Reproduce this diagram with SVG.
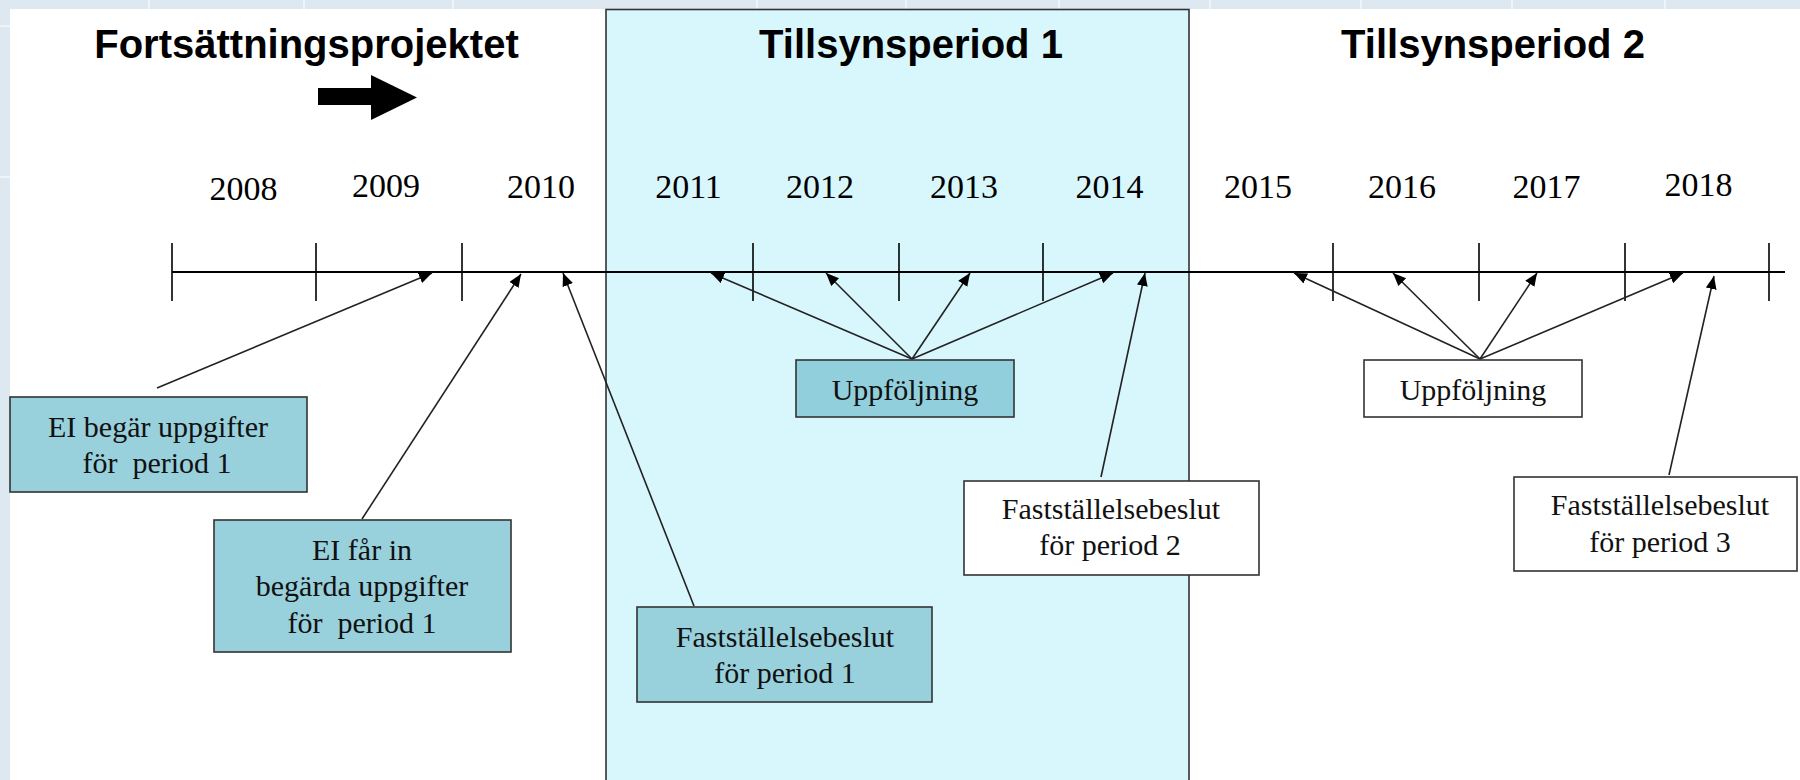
<svg xmlns="http://www.w3.org/2000/svg" width="1800" height="780" viewBox="0 0 1800 780">
  <style>
    .title { font-family: "Liberation Sans", Arial, sans-serif; font-weight: bold; font-size: 40px; fill: #000; text-anchor: middle; }
    .year { font-family: "Liberation Serif", "Times New Roman", serif; font-size: 34px; fill: #000; text-anchor: middle; }
    .lbl { font-family: "Liberation Serif", "Times New Roman", serif; font-size: 30px; fill: #111; text-anchor: middle; }
    .box { stroke: #333; stroke-width: 1.6; }
    .teal { fill: #98d0dc; }
    .white { fill: #ffffff; }
    .conn { stroke: #222; stroke-width: 1.6; fill: none; marker-end: url(#ah); }
    .tick { stroke: #000; stroke-width: 1.6; }
    .grid { stroke: #eef4f8; stroke-width: 2; }
  </style>
  <defs>
    <marker id="ah" markerUnits="userSpaceOnUse" markerWidth="14" markerHeight="12" refX="13" refY="5.5" orient="auto">
      <path d="M0,0 L13,5.5 L0,11 z" fill="#000"/>
    </marker>
  </defs>

  <!-- background -->
  <rect x="0" y="0" width="1800" height="780" fill="#dde8f0"/>
  <g id="bg-grid">
    <line class="grid" x1="149" y1="0" x2="149" y2="9"/>
    <line class="grid" x1="304" y1="0" x2="304" y2="9"/>
    <line class="grid" x1="453" y1="0" x2="453" y2="9"/>
    <line class="grid" x1="757" y1="0" x2="757" y2="9"/>
    <line class="grid" x1="906" y1="0" x2="906" y2="9"/>
    <line class="grid" x1="1059" y1="0" x2="1059" y2="9"/>
    <line class="grid" x1="1210" y1="0" x2="1210" y2="9"/>
    <line class="grid" x1="1361" y1="0" x2="1361" y2="9"/>
    <line class="grid" x1="1512" y1="0" x2="1512" y2="9"/>
    <line class="grid" x1="1665" y1="0" x2="1665" y2="9"/>
    <line class="grid" x1="0" y1="26" x2="10" y2="26"/>
    <line class="grid" x1="0" y1="177" x2="10" y2="177"/>
  </g>
  <rect x="10" y="9" width="1790" height="771" fill="#ffffff"/>

  <!-- Tillsynsperiod 1 band -->
  <rect id="period1-band" x="606" y="9.5" width="583" height="780" fill="#d8f7fd" stroke="#333" stroke-width="1.6"/>

  <!-- titles -->
  <g id="title-fortsattning">
    <text class="title" x="306.5" y="58">Fortsättningsprojektet</text>
    <polygon points="318,88 371,88 371,75 417,97.5 371,120 371,105 318,105" fill="#000"/>
  </g>
  <g id="title-period1"><text class="title" x="911" y="58">Tillsynsperiod 1</text></g>
  <g id="title-period2"><text class="title" x="1493" y="58">Tillsynsperiod 2</text></g>

  <!-- years -->
  <g id="years">
    <text class="year" x="243.5" y="200">2008</text>
    <text class="year" x="386" y="197">2009</text>
    <text class="year" x="541" y="198">2010</text>
    <text class="year" x="688.5" y="198">2011</text>
    <text class="year" x="820" y="198">2012</text>
    <text class="year" x="964" y="198">2013</text>
    <text class="year" x="1109.5" y="198">2014</text>
    <text class="year" x="1258" y="198">2015</text>
    <text class="year" x="1402" y="198">2016</text>
    <text class="year" x="1546.5" y="198">2017</text>
    <text class="year" x="1698.5" y="196">2018</text>
  </g>

  <!-- timeline -->
  <g id="timeline">
    <line x1="172" y1="272" x2="1785" y2="272" stroke="#000" stroke-width="2"/>
    <line class="tick" x1="172" y1="243" x2="172" y2="301"/>
    <line class="tick" x1="316" y1="243" x2="316" y2="301"/>
    <line class="tick" x1="462" y1="243" x2="462" y2="301"/>
    <line class="tick" x1="753" y1="243" x2="753" y2="301"/>
    <line class="tick" x1="899" y1="243" x2="899" y2="301"/>
    <line class="tick" x1="1043" y1="243" x2="1043" y2="301"/>
    <line class="tick" x1="1333" y1="243" x2="1333" y2="301"/>
    <line class="tick" x1="1479" y1="243" x2="1479" y2="301"/>
    <line class="tick" x1="1625" y1="243" x2="1625" y2="301"/>
    <line class="tick" x1="1769" y1="243" x2="1769" y2="301"/>
  </g>

  <!-- connectors -->
  <g id="connectors">
    <line class="conn" x1="157" y1="388" x2="432" y2="273"/>
    <line class="conn" x1="362" y1="519" x2="521" y2="274"/>
    <line class="conn" x1="694" y1="606" x2="563" y2="273"/>
    <line class="conn" x1="912" y1="359" x2="711" y2="273"/>
    <line class="conn" x1="912" y1="359" x2="826" y2="273"/>
    <line class="conn" x1="912" y1="359" x2="970" y2="273"/>
    <line class="conn" x1="912" y1="359" x2="1113" y2="273"/>
    <line class="conn" x1="1101" y1="477" x2="1145" y2="273"/>
    <line class="conn" x1="1480" y1="359" x2="1294" y2="273"/>
    <line class="conn" x1="1480" y1="359" x2="1393" y2="273"/>
    <line class="conn" x1="1480" y1="359" x2="1537" y2="273"/>
    <line class="conn" x1="1480" y1="359" x2="1683" y2="273"/>
    <line class="conn" x1="1669" y1="475" x2="1714" y2="276"/>
  </g>

  <!-- nodes -->
  <g id="node-ei-begar">
    <rect class="box teal" x="10" y="397" width="297" height="95"/>
    <text class="lbl" x="158" y="437">EI begär uppgifter</text>
    <text class="lbl" x="157" y="473" xml:space="preserve">för  period 1</text>
  </g>
  <g id="node-ei-far-in">
    <rect class="box teal" x="214" y="520" width="297" height="132"/>
    <text class="lbl" x="362" y="560">EI får in</text>
    <text class="lbl" x="362" y="596">begärda uppgifter</text>
    <text class="lbl" x="362" y="633" xml:space="preserve">för  period 1</text>
  </g>
  <g id="node-faststallelse-1">
    <rect class="box teal" x="637" y="607" width="295" height="95"/>
    <text class="lbl" x="785" y="647">Fastställelsebeslut</text>
    <text class="lbl" x="785" y="683">för period 1</text>
  </g>
  <g id="node-uppfoljning-1">
    <rect class="box" x="796" y="360" width="218" height="57" fill="#92cfdc"/>
    <text class="lbl" x="905" y="400">Uppföljning</text>
  </g>
  <g id="node-faststallelse-2">
    <rect class="box white" x="964" y="481" width="295" height="94"/>
    <text class="lbl" x="1111" y="519">Fastställelsebeslut</text>
    <text class="lbl" x="1110" y="555">för period 2</text>
  </g>
  <g id="node-uppfoljning-2">
    <rect class="box white" x="1364" y="360" width="218" height="57"/>
    <text class="lbl" x="1473" y="400">Uppföljning</text>
  </g>
  <g id="node-faststallelse-3">
    <rect class="box white" x="1514" y="477" width="283" height="94"/>
    <text class="lbl" x="1660" y="515">Fastställelsebeslut</text>
    <text class="lbl" x="1660" y="552">för period 3</text>
  </g>
</svg>
